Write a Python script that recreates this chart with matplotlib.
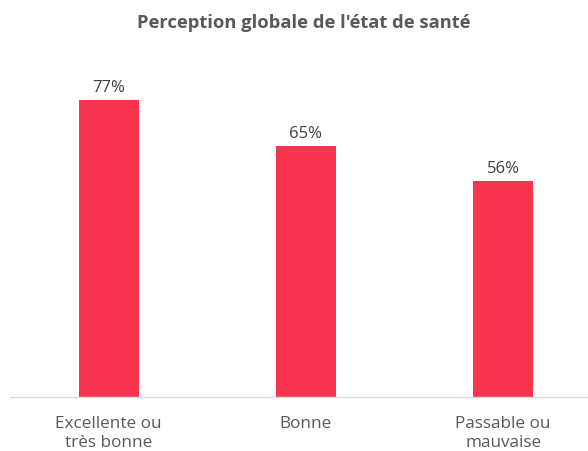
import matplotlib.pyplot as plt

categories = ["Excellente ou\ntrès bonne", "Bonne", "Passable ou\nmauvaise"]
values = [77, 65, 56]
labels = ["77%", "65%", "56%"]

plt.rcParams['font.family'] = ['Open Sans', 'DejaVu Sans']

W, H = 588, 451
fig = plt.figure(figsize=(W/100, H/100), dpi=100)
ax_left, ax_right = 10, 588
ax_bottom, ax_top = 397, 50
ax = fig.add_axes([ax_left/W, 1-ax_bottom/H, (ax_right-ax_left)/W, (ax_bottom-ax_top)/H])

x = list(range(len(categories)))
ax.bar(x, values, width=0.305, color="#F8354F", zorder=2)
for xi, v, lab in zip(x, values, labels):
    ax.annotate(lab, (xi, v), xytext=(0, 3), textcoords="offset points",
                ha="center", va="bottom", fontsize=12, color="#404040")

ax.set_xlim(-0.5, 2.43)
ax.set_ylim(0, 90)
ax.set_xticks(x)
ax.set_xticklabels(categories, fontsize=12.3, color="#595959", linespacing=1.25)
ax.tick_params(axis='x', length=0, pad=14)
ax.set_yticks([])
for s in ["top", "right", "left"]:
    ax.spines[s].set_visible(False)
ax.spines["bottom"].set_color("#D9D9D9")
ax.spines["bottom"].set_linewidth(1)

fig.text(304/W, 1-23/H, "Perception globale de l'état de santé", ha="center", va="center",
         fontsize=13.2, fontweight="bold", color="#595959")

fig.savefig("out.png", dpi=100)
